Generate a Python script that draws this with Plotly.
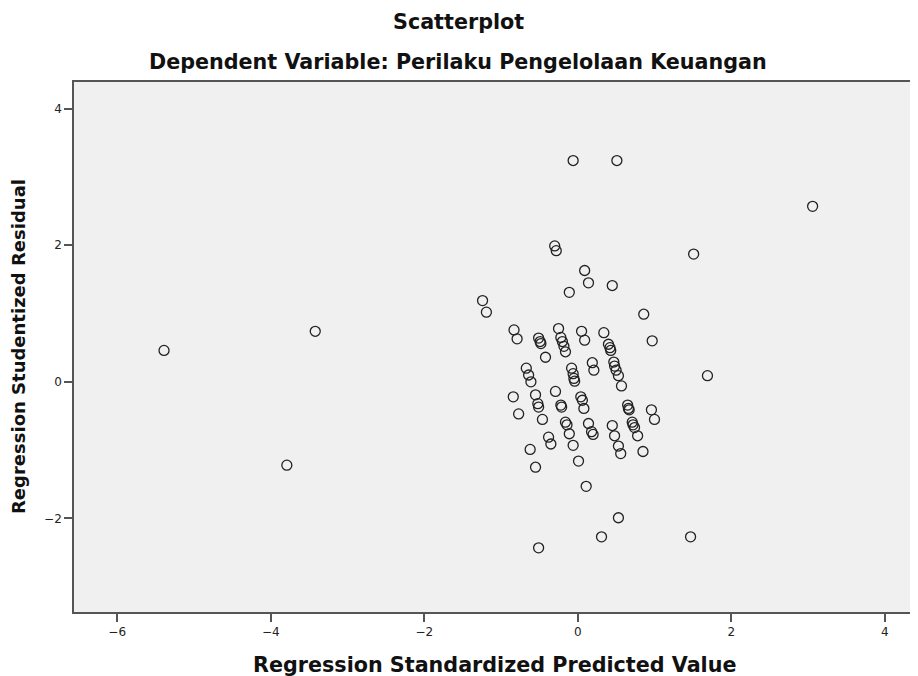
import plotly.graph_objects as go

# Regression Standardized Predicted Value (x) and Regression Studentized Residual (y)
pred = [-5.39, -3.79, -3.42, 3.06, -0.06, 0.51, 1.51, -0.30, -0.28, 0.09,
        0.14, 0.45, -0.11, -1.24, -1.19, 0.86, -0.83, -0.79, -0.51, -0.49,
        -0.48, -0.42, -0.25, -0.22, -0.20, -0.18, -0.16, 0.05, 0.09, 0.34,
        0.40, 0.42, 0.43, 0.97, -0.67, -0.64, -0.61, -0.08, -0.06, -0.05,
        -0.04, 0.19, 0.21, 0.47, 0.48, 0.50, 0.53, 0.57, 1.69, -0.84,
        -0.77, -0.55, -0.52, -0.51, -0.46, -0.29, -0.22, -0.21, 0.04, 0.06,
        0.08, -0.16, -0.14, -0.11, 0.14, 0.18, 0.20, -0.38, -0.35, -0.06,
        -0.62, 0.01, -0.55, 0.11, 0.45, 0.48, 0.53, 0.56, 0.65, 0.66,
        0.67, 0.96, 1.00, 0.71, 0.72, 0.74, 0.78, 0.85, 0.53, 0.31,
        1.47, -0.51]
resid = [0.46, -1.22, 0.74, 2.57, 3.24, 3.24, 1.87, 1.99, 1.92, 1.63,
         1.45, 1.41, 1.31, 1.19, 1.02, 0.99, 0.76, 0.63, 0.64, 0.59,
         0.56, 0.36, 0.78, 0.65, 0.59, 0.52, 0.44, 0.74, 0.61, 0.72,
         0.55, 0.50, 0.46, 0.60, 0.20, 0.10, 0.00, 0.20, 0.12, 0.05,
         0.01, 0.28, 0.17, 0.29, 0.23, 0.17, 0.09, -0.06, 0.09, -0.22,
         -0.47, -0.19, -0.32, -0.37, -0.55, -0.14, -0.34, -0.37, -0.22, -0.27,
         -0.39, -0.59, -0.63, -0.76, -0.61, -0.73, -0.77, -0.81, -0.91, -0.93,
         -0.99, -1.16, -1.25, -1.53, -0.64, -0.79, -0.94, -1.05, -0.34, -0.39,
         -0.41, -0.41, -0.55, -0.59, -0.63, -0.67, -0.79, -1.02, -1.99, -2.27,
         -2.27, -2.43]

x_ticks = [-6, -4, -2, 0, 2, 4]
y_ticks = [-2, 0, 2, 4]

title_text = "Scatterplot"
subtitle_text = "Dependent Variable: Perilaku Pengelolaan Keuangan"
x_title = "Regression Standardized Predicted Value"
y_title = "Regression Studentized Residual"

fig = go.Figure(go.Scatter(
    x=pred, y=resid, mode="markers",
    marker=dict(symbol="circle-open", size=10, color="#222222",
                line=dict(width=1.3, color="#222222")),
    hoverinfo="x+y",
))

axis_common = dict(
    showline=True, linecolor="#555555", linewidth=1.6, mirror=True,
    showgrid=False, zeroline=False,
    ticks="outside", ticklen=8, tickwidth=1.5, tickcolor="#555555",
    tickfont=dict(family="DejaVu Sans", size=12, color="#222222"),
)

title_font = dict(family="DejaVu Sans", size=20.7, color="#111111")

fig.update_layout(
    width=910, height=668,
    margin=dict(l=66, r=1, t=74, b=64),
    paper_bgcolor="white",
    plot_bgcolor="#f0f0f0",
    showlegend=False,
    xaxis=dict(range=[-6.563, 4.394], tickvals=x_ticks, **axis_common),
    yaxis=dict(range=[-3.37, 4.39], tickvals=y_ticks, **axis_common),
    annotations=[
        dict(text="<b>" + title_text + "</b>", xref="paper", yref="paper",
             x=0.4567, y=1, yshift=60, showarrow=False, yanchor="middle",
             font=title_font),
        dict(text="<b>" + subtitle_text + "</b>", xref="paper", yref="paper",
             x=0.4567, y=1, yshift=20, showarrow=False, yanchor="middle",
             font=title_font),
        dict(text="<b>" + x_title + "</b>", xref="paper", yref="paper",
             x=0.5, y=0, yshift=-53, showarrow=False, yanchor="middle",
             font=title_font),
        dict(text="<b>" + y_title + "</b>", xref="paper", yref="paper",
             x=0, y=0.5, xshift=-56, showarrow=False, xanchor="center",
             yanchor="middle", textangle=-90,
             font=dict(family="DejaVu Sans", size=18, color="#111111")),
    ],
)

fig.write_html("out.html")
